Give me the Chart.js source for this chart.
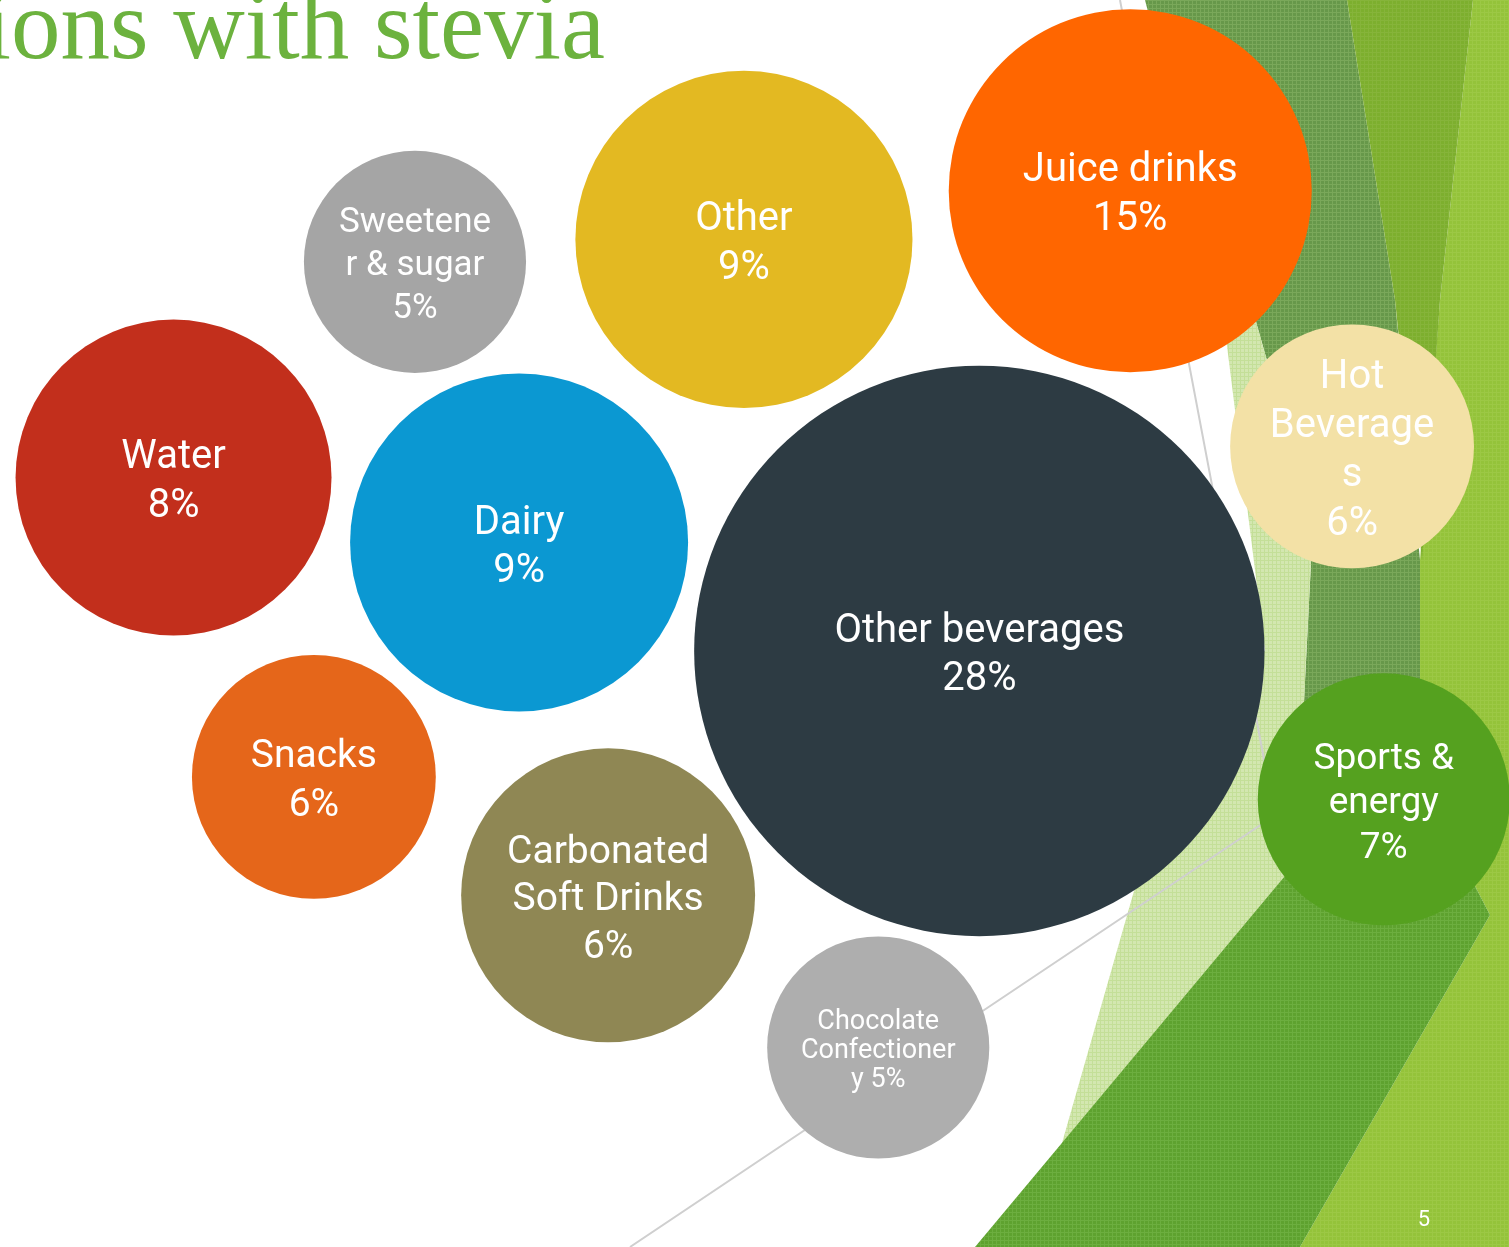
<!DOCTYPE html>
<html lang="en">

<head>
    <meta charset="UTF-8">
    <title>Applications with stevia</title>
    <script src="https://cdn.jsdelivr.net/npm/chart.js@4.4.1/dist/chart.umd.min.js"></script>
</head>

<style>
    body {
        margin: 0;
        background: #ffffff;
        overflow: hidden;
    }
</style>

<body>
    <canvas id="myChart" width="1509" height="1247"></canvas>

    <script>
        // market share by category (%)
        const categories = ['Sweetener & sugar', 'Other', 'Juice drinks', 'Water', 'Dairy', 'Other beverages',
            'Hot Beverages', 'Snacks', 'Carbonated Soft Drinks', 'Sports & energy', 'Chocolate Confectionery'];
        const shares = [5, 9, 15, 8, 9, 28, 6, 6, 6, 7, 5];

        // bubble chart values (x, y on a 0-100 grid, bubble size in x-units)
        const bubbleX = [27.5, 49.3, 74.9, 11.5, 34.4, 64.9, 89.6, 20.8, 40.3, 91.7, 58.2];
        const bubbleY = [79.0, 80.8, 84.7, 61.7, 56.5, 47.8, 64.2, 37.7, 28.2, 35.9, 16.0];
        const bubbleSize = [7.36, 11.17, 12.03, 10.47, 11.2, 18.9, 8.08, 8.08, 9.74, 8.35, 7.36];

        // label text as it wraps on the slide
        const labelLines = [['Sweetene', 'r & sugar'], ['Other'], ['Juice drinks'], ['Water'], ['Dairy'],
            ['Other beverages'], ['Hot', 'Beverage', 's'], ['Snacks'], ['Carbonated', 'Soft Drinks'],
            ['Sports &', 'energy'], ['Chocolate', 'Confectioner', 'y']];
        const pctInline = [false, false, false, false, false, false, false, false, false, false, true];

        const colors = ['#a5a5a5', '#e3b922', '#ff6600', '#c22f1c', '#0b98d2', '#2d3b43',
            '#f3e1a6', '#e5661a', '#8f8754', '#55a11f', '#aeaeae'];
        const fontSizes = [35, 40, 40, 40, 40, 40, 40, 39, 39, 37, 27];
        const lineHeights = [43, 49, 49, 49, 48, 48, 49, 49, 47.5, 44.5, 29];

        const canvasWidth = 1509;

        function pattern(ctx, base, dot) {
            const c = document.createElement('canvas');
            c.width = 4; c.height = 4;
            const g = c.getContext('2d');
            g.fillStyle = base; g.fillRect(0, 0, 4, 4);
            g.fillStyle = dot;
            g.fillRect(0, 0, 1, 4);
            g.fillRect(0, 0, 4, 1);
            return ctx.createPattern(c, 'repeat');
        }

        function poly(ctx, pts, fill) {
            ctx.beginPath();
            ctx.moveTo(pts[0][0], pts[0][1]);
            for (let i = 1; i < pts.length; i++) ctx.lineTo(pts[i][0], pts[i][1]);
            ctx.closePath();
            ctx.fillStyle = fill;
            ctx.fill();
        }

        // slide decoration behind the bubbles
        const backdrop = {
            id: 'backdrop',
            beforeDatasetsDraw(chart) {
                const ctx = chart.ctx;
                ctx.save();
                poly(ctx, [[1473, 0], [1509, 0], [1509, 1247], [1300, 1247], [1490, 915], [1420, 780], [1420, 560], [1440, 300]],
                    pattern(ctx, '#94c33a', '#9cc845'));
                poly(ctx, [[1145, 0], [1347, 0], [1395, 300], [1420, 560], [1420, 780], [1300, 780], [1313, 523], [1247, 290], [1220, 290]],
                    pattern(ctx, '#67984a', '#7aa85a'));
                poly(ctx, [[1347, 0], [1473, 0], [1440, 300], [1422, 560], [1395, 300]], pattern(ctx, '#7daf2e', '#86b43a'));
                poly(ctx, [[1220, 290], [1247, 290], [1313, 523], [1300, 780], [1290, 870], [1050, 1185], [1140, 870], [1265, 650]],
                    pattern(ctx, '#d3e7b0', '#c4df98'));
                poly(ctx, [[975, 1247], [1290, 870], [1300, 780], [1420, 780], [1490, 915], [1300, 1247]],
                    pattern(ctx, '#5ea22f', '#6cae3f'));

                ctx.strokeStyle = '#cfcfcf';
                ctx.lineWidth = 2;
                ctx.beginPath();
                ctx.moveTo(1120, 0); ctx.lineTo(1285, 870);
                ctx.moveTo(630, 1247); ctx.lineTo(1265, 822);
                ctx.stroke();
                ctx.restore();
            }
        };

        const bubbleLabels = {
            id: 'bubbleLabels',
            afterDatasetsDraw(chart) {
                const ctx = chart.ctx;
                const meta = chart.getDatasetMeta(0);
                ctx.save();
                ctx.fillStyle = '#ffffff';
                ctx.textAlign = 'center';
                ctx.textBaseline = 'middle';
                meta.data.forEach((el, i) => {
                    const lines = labelLines[i].slice();
                    const pct = shares[i] + '%';
                    if (pctInline[i]) lines[lines.length - 1] += ' ' + pct;
                    else lines.push(pct);
                    const fs = fontSizes[i];
                    const lh = lineHeights[i];
                    ctx.font = fs + 'px Roboto, "Open Sans", sans-serif';
                    const top = el.y - (lines.length - 1) * lh / 2 + fs * 0.13;
                    lines.forEach((t, k) => ctx.fillText(t, el.x, top + k * lh));
                });

                // slide title and page number
                ctx.fillStyle = '#6cb23e';
                ctx.textAlign = 'right';
                ctx.textBaseline = 'alphabetic';
                ctx.font = '99px "Liberation Serif", serif';
                ctx.fillText('ions with stevia', 605, 58);

                ctx.fillStyle = '#ffffff';
                ctx.textAlign = 'center';
                ctx.textBaseline = 'middle';
                ctx.font = '22px Roboto, sans-serif';
                ctx.fillText('5', 1424, 1220);
                ctx.restore();
            }
        };

        const data = {
            labels: categories,
            datasets: [{
                label: 'Share',
                data: categories.map((c, i) => ({ x: bubbleX[i], y: bubbleY[i], r: bubbleSize[i] * canvasWidth / 100 })),
                backgroundColor: colors,
                borderWidth: 0,
                hoverRadius: 0,
                clip: false
            }]
        };

        const config = {
            type: 'bubble',
            data: data,
            options: {
                responsive: false,
                animation: false,
                layout: { padding: 0, autoPadding: false },
                plugins: {
                    legend: { display: false },
                    tooltip: { enabled: false }
                },
                scales: {
                    x: { type: 'linear', min: 0, max: 100, display: false },
                    y: { type: 'linear', min: 0, max: 100, display: false }
                }
            },
            plugins: [backdrop, bubbleLabels]
        };

        const ctx = document.getElementById('myChart').getContext('2d');
        let meuGrafico = new Chart(ctx, config);
    </script>
</body>

</html>
